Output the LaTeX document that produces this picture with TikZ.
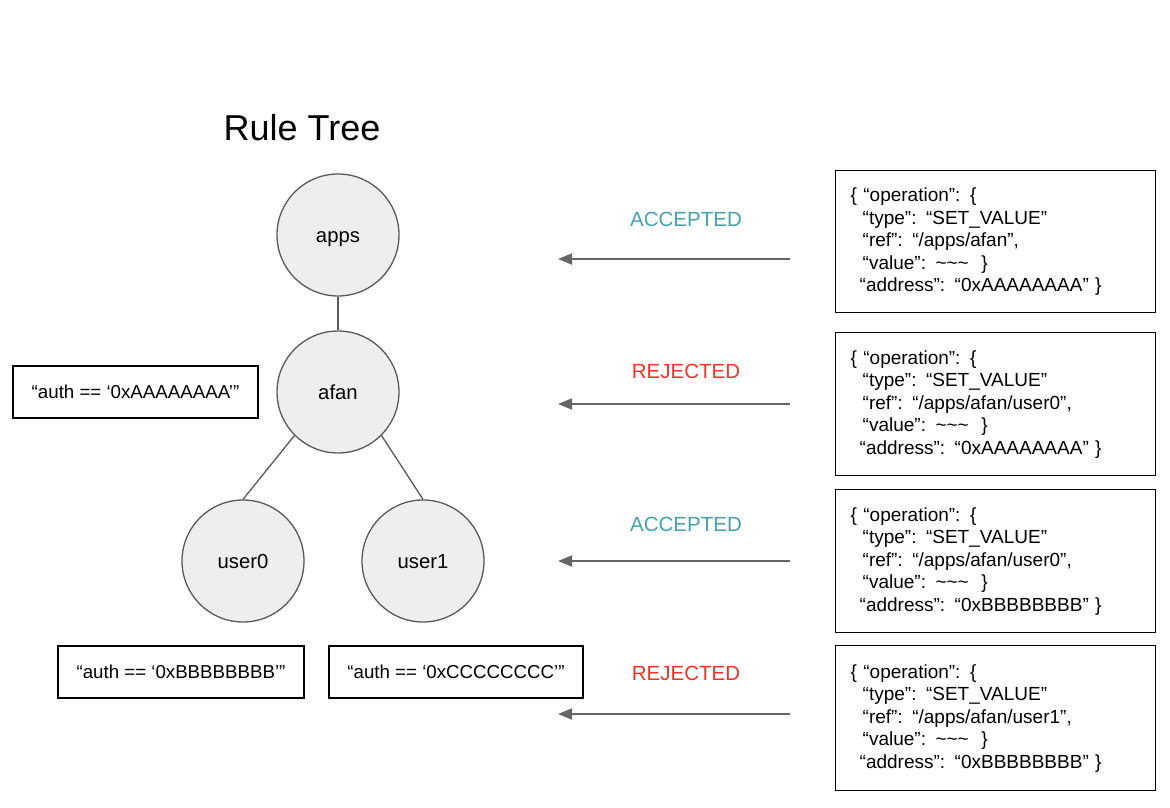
\documentclass[tikz,border=0pt]{standalone}
\usepackage{fontspec}
\setmainfont{Liberation Sans}
\usetikzlibrary{arrows.meta}
\definecolor{circfill}{HTML}{EEEEEE}
\definecolor{circline}{HTML}{595959}
\definecolor{arrgrey}{HTML}{666666}
\definecolor{accteal}{HTML}{45A1AD}
\definecolor{rejred}{RGB}{238,52,44}
\tikzset{
  treenode/.style={circle, draw=circline, fill=circfill, line width=1.3pt, minimum size=122pt, inner sep=0pt, text height=14.8pt, text depth=0pt, font=\fontsize{20.3}{24}\selectfont},
  authbox/.style={draw=black, line width=1.4pt, minimum height=52pt, inner sep=0pt, font=\fontsize{18.7}{22}\selectfont},
  opbox/.style={draw=black, line width=1.4pt, anchor=north west, minimum width=320pt, minimum height=142pt, text width=290pt, inner xsep=15pt, inner ysep=0pt, align=left, font=\fontsize{19}{22.5}\selectfont},
  verdict/.style={font=\fontsize{20.5}{24}\selectfont},
  resarrow/.style={draw=arrgrey, line width=1.8pt, -{Triangle[length=14pt,width=11pt]}},
  treeedge/.style={draw=circline, line width=1.3pt}
}
\newcommand{\tl}{\textasciitilde\textasciitilde\textasciitilde}
\begin{document}
\begin{tikzpicture}[x=1pt,y=-1pt]
\useasboundingbox (0,0) rectangle (1170,808);

\node[font=\fontsize{36}{40}\selectfont] (title) at (302,128) {Rule Tree};

\node[treenode] (apps) at (338,235) {apps};
\node[treenode] (afan) at (338,392) {afan};
\node[treenode] (user0) at (243,561) {user0};
\node[treenode] (user1) at (423,561) {user1};

\draw[treeedge] (apps) -- (afan);
\draw[treeedge] (afan.225) -- (user0.north);
\draw[treeedge] (afan.-45) -- (user1.north);

\node[authbox, minimum width=245pt] (authA) at (135.5,392) {“auth == ‘0xAAAAAAAA’”};
\node[authbox, minimum width=246pt] (authB) at (181,672) {“auth == ‘0xBBBBBBBB’”};
\node[authbox, minimum width=254pt] (authC) at (456,672) {“auth == ‘0xCCCCCCCC’”};

\node[opbox, minimum height=142pt] (op1) at (835,170) {\{ “operation”: \{\\\hspace*{12pt}“type”: “SET\_VALUE”\\\hspace*{12pt}“ref”: “/apps/afan”,\\\hspace*{12pt}“value”: \tl\ \ \}\\\hspace*{9pt}“address”: “0xAAAAAAAA” \}};
\node[opbox, minimum height=143pt] (op2) at (835,332) {\{ “operation”: \{\\\hspace*{12pt}“type”: “SET\_VALUE”\\\hspace*{12pt}“ref”: “/apps/afan/user0”,\\\hspace*{12pt}“value”: \tl\ \ \}\\\hspace*{9pt}“address”: “0xAAAAAAAA” \}};
\node[opbox, minimum height=143pt] (op3) at (835,489) {\{ “operation”: \{\\\hspace*{12pt}“type”: “SET\_VALUE”\\\hspace*{12pt}“ref”: “/apps/afan/user0”,\\\hspace*{12pt}“value”: \tl\ \ \}\\\hspace*{9pt}“address”: “0xBBBBBBBB” \}};
\node[opbox, minimum height=145pt] (op4) at (835,645) {\{ “operation”: \{\\\hspace*{12pt}“type”: “SET\_VALUE”\\\hspace*{12pt}“ref”: “/apps/afan/user1”,\\\hspace*{12pt}“value”: \tl\ \ \}\\\hspace*{9pt}“address”: “0xBBBBBBBB” \}};

\node[verdict, text=accteal] (v1) at (686,219) {ACCEPTED};
\node[verdict, text=rejred] (v2) at (686,371) {REJECTED};
\node[verdict, text=accteal] (v3) at (686,524) {ACCEPTED};
\node[verdict, text=rejred] (v4) at (686,673) {REJECTED};

\coordinate (s1) at (790,259); \coordinate (e1) at (558,259);
\coordinate (s2) at (790,404); \coordinate (e2) at (558,404);
\coordinate (s3) at (790,561); \coordinate (e3) at (558,561);
\coordinate (s4) at (790,714); \coordinate (e4) at (558,714);
\draw[resarrow] (s1) -- (e1);
\draw[resarrow] (s2) -- (e2);
\draw[resarrow] (s3) -- (e3);
\draw[resarrow] (s4) -- (e4);
\end{tikzpicture}
\end{document}
